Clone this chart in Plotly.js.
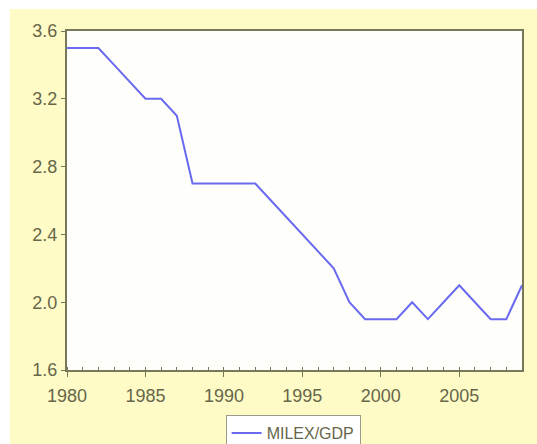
<!DOCTYPE html>
<html>
<head>
<meta charset="utf-8">
<script src="https://cdn.plot.ly/plotly-3.0.1.min.js"></script>
<style>
  html, body { margin: 0; padding: 0; background: #ffffff; width: 537px; height: 444px; overflow: hidden; }
  #chart { position: absolute; left: 10px; top: 9px; width: 527px; height: 475px; }
</style>
</head>
<body>
<div id="chart"></div>
<script>
const years = [1980,1981,1982,1983,1984,1985,1986,1987,1988,1989,1990,1991,1992,1993,1994,1995,1996,1997,1998,1999,2000,2001,2002,2003,2004,2005,2006,2007,2008,2009];
const milexGdp = [3.5,3.5,3.5,3.4,3.3,3.2,3.2,3.1,2.7,2.7,2.7,2.7,2.7,2.6,2.5,2.4,2.3,2.2,2.0,1.9,1.9,1.9,2.0,1.9,2.0,2.1,2.0,1.9,1.9,2.1];
const seriesName = "MILEX/GDP";
const xTicks = [1980,1985,1990,1995,2000,2005];
const yTicks = [1.6,2.0,2.4,2.8,3.2,3.6];

const axisColor = '#77775a';
const textColor = '#66664a';

const trace = {
  x: years, y: milexGdp, type: 'scatter', mode: 'lines', name: seriesName,
  line: { color: '#6a6af0', width: 2 }
};

const layout = {
  width: 527, height: 475,
  paper_bgcolor: '#fffbc6',
  plot_bgcolor: '#fefefb',
  margin: { l: 57, r: 15, t: 22, b: 114 },
  font: { family: 'Arial, Liberation Sans, sans-serif', size: 18, color: textColor },
  showlegend: true,
  legend: {
    orientation: 'h', x: 0.497, xanchor: 'center', xref: 'paper',
    y: -0.133, yanchor: 'top', yref: 'paper',
    bgcolor: '#ffffff', bordercolor: '#9a9a8a', borderwidth: 1,
    font: { size: 16, color: textColor }
  },
  xaxis: {
    range: [1980, 2009], tickvals: xTicks, ticktext: xTicks.map(String),
    showgrid: false, zeroline: false, showline: true, mirror: true,
    linecolor: axisColor, linewidth: 2,
    ticks: 'outside', ticklen: 5, tickcolor: axisColor, tickwidth: 1,
    ticklabelstandoff: 3,
    minor: { dtick: 1, ticks: 'inside', ticklen: 3, tickcolor: axisColor, showgrid: false },
    tickfont: { size: 18, color: textColor }
  },
  yaxis: {
    range: [1.6, 3.6], tickvals: yTicks, ticktext: yTicks.map(v => v.toFixed(1)),
    showgrid: false, zeroline: false, showline: true, mirror: true,
    linecolor: axisColor, linewidth: 2,
    ticks: 'outside', ticklen: 4, tickcolor: axisColor, tickwidth: 1,
    tickfont: { size: 18, color: textColor }
  }
};

Plotly.newPlot('chart', [trace], layout, { displayModeBar: false, staticPlot: true });
</script>
</body>
</html>
